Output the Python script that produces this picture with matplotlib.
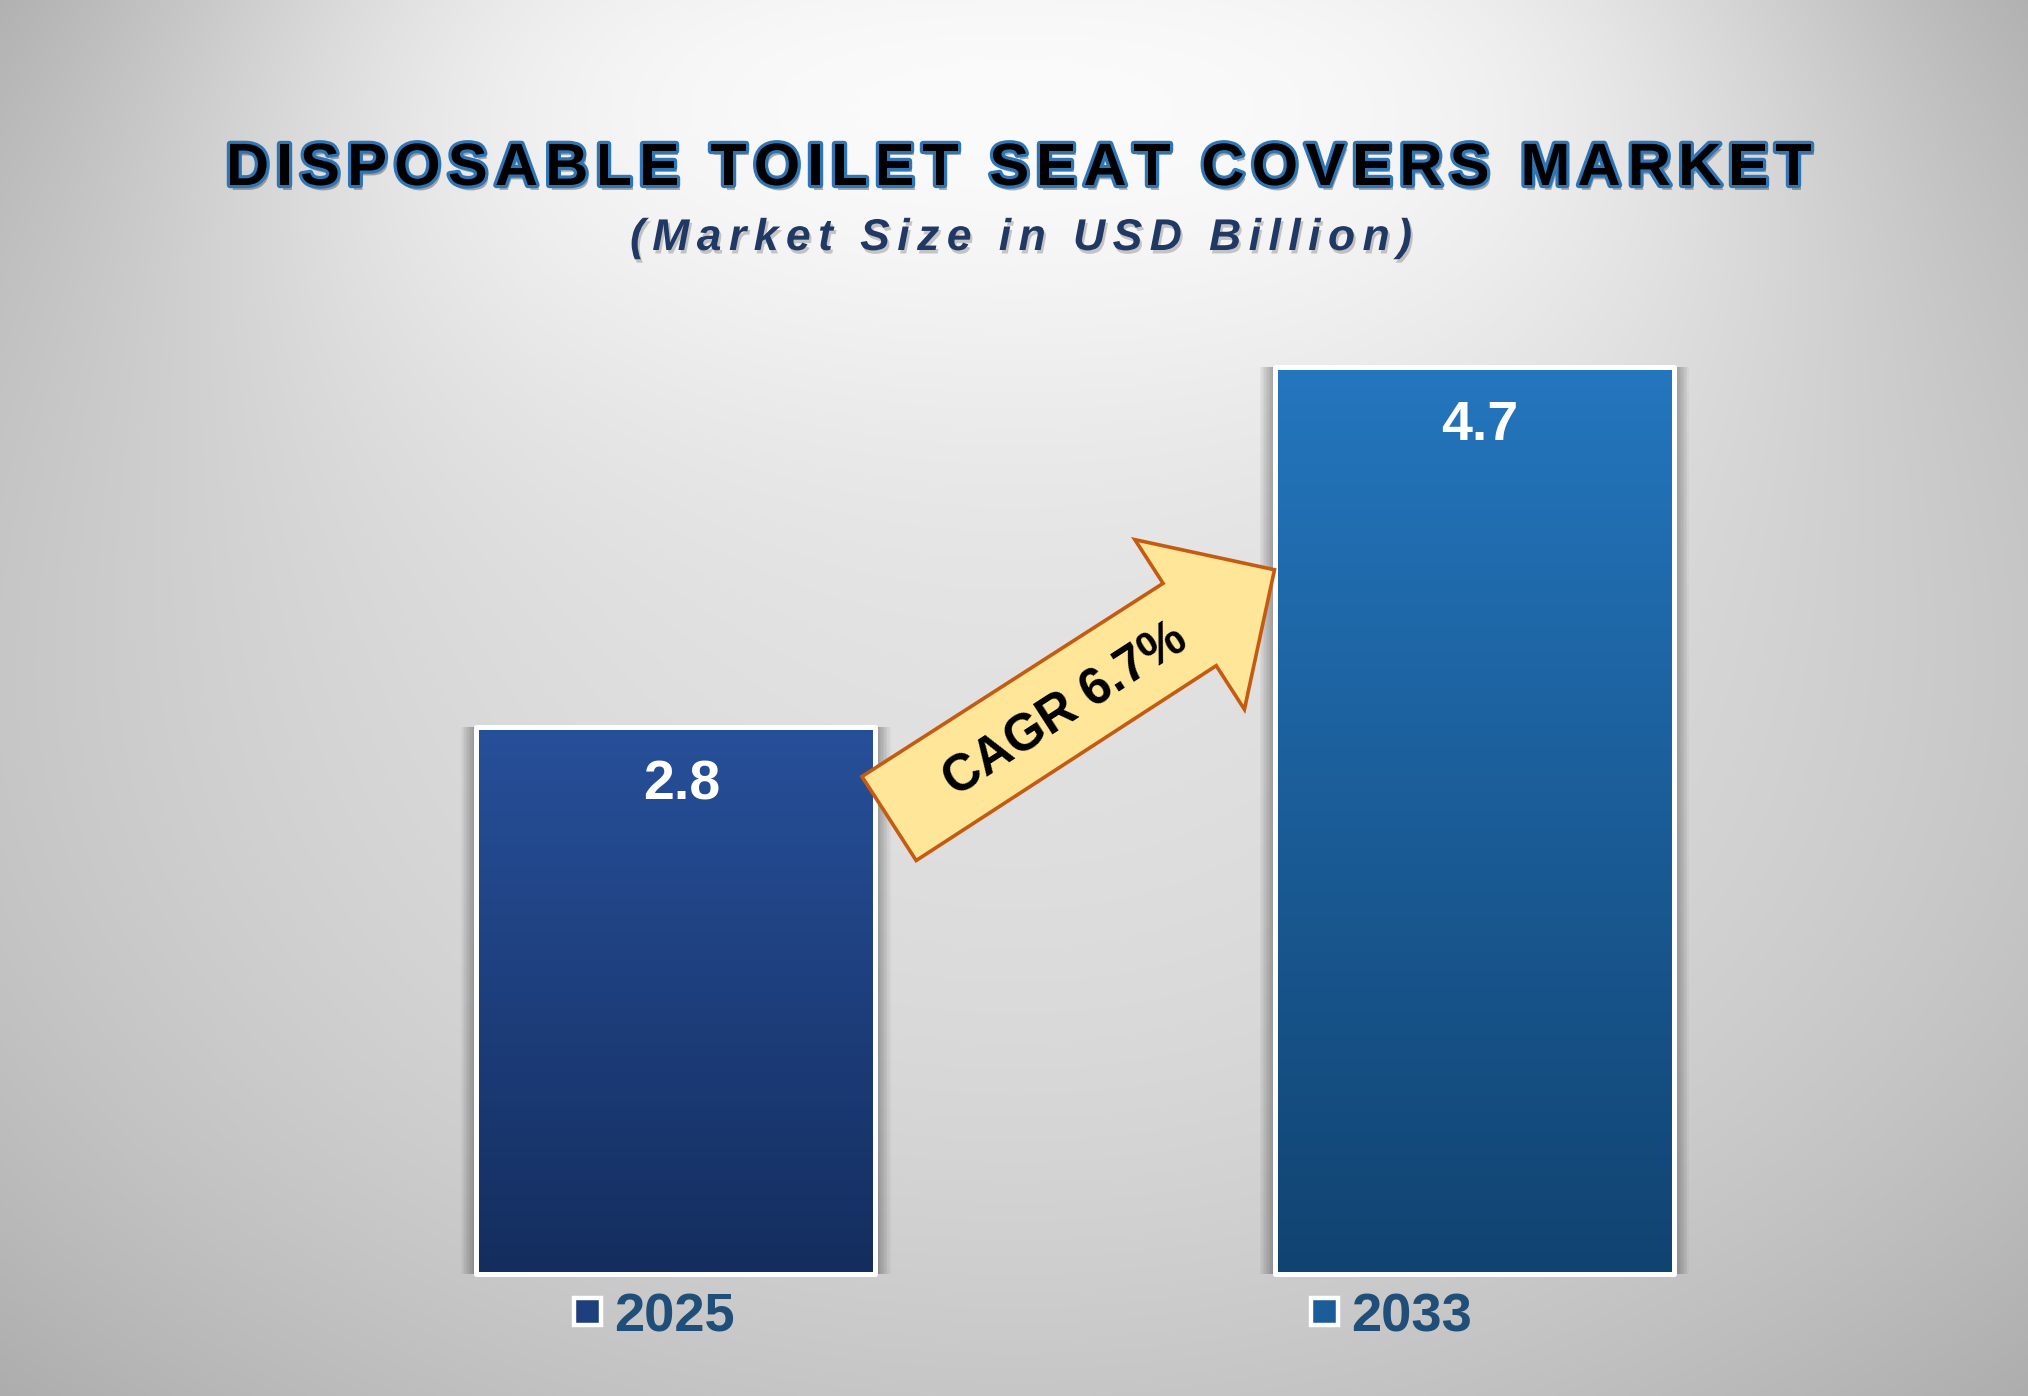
import numpy as np
import matplotlib
matplotlib.use("Agg")
import matplotlib.pyplot as plt
from matplotlib import patheffects as pe
from matplotlib.patches import Polygon, Patch
from matplotlib.font_manager import FontProperties, findfont, get_font
from matplotlib.transforms import IdentityTransform
from matplotlib.colors import to_rgb

# ---------------- data ----------------
years = ["2025", "2033"]
values = [2.8, 4.7]
value_labels = ["2.8", "4.7"]
cagr_label = "CAGR 6.7%"
title = "DISPOSABLE TOILET SEAT COVERS MARKET"
subtitle = "(Market Size in USD Billion)"
top_colors = ["#27509A", "#2476BE"]
bottom_colors = ["#142D5E", "#114371"]
legend_colors = ["#1F3F7C", "#1B5D98"]

W, H, DPI = 2028, 1396, 100
FONT = "Liberation Sans"

fig = plt.figure(figsize=(W / DPI, H / DPI), dpi=DPI)

# ---------------- background (vignette + light spot at top centre) ----------------
bg = fig.add_axes([0, 0, 1, 1], zorder=-10)
bg.axis("off")
yy, xx = np.mgrid[0:H:2, 0:W:2].astype(float)
dxn = (xx - W / 2) / (W / 2)
dyn = (yy - H / 2) / (H / 2)
g = 223 - 25 * (dxn ** 2 + dyn ** 2) + 49 * np.exp(-((xx - W / 2) / 816) ** 4 - (yy / 400) ** 2)
g = np.clip(g, 120, 250) / 255.0
bg.imshow(np.dstack([g, g, g]), extent=[0, 1, 0, 1], aspect="auto",
          origin="upper", interpolation="bilinear")
bg.set_xlim(0, 1)
bg.set_ylim(0, 1)

# ---------------- main axes ----------------
px_unit_x = 798.0
px_unit_y = 189.5
x0_px = 676.0
xlim = (-0.8, 1.67)
ylim = (-0.088, 5.5)          # value axis starts slightly below zero
left_px = x0_px + xlim[0] * px_unit_x
ax = fig.add_axes([left_px / W, (H - 1274) / H,
                   (xlim[1] - xlim[0]) * px_unit_x / W,
                   (ylim[1] - ylim[0]) * px_unit_y / H])
ax.patch.set_alpha(0)
ax.axis("off")

xs = np.arange(len(values))
vals = np.array(values)
base = ylim[0]
bar_w = 0.5

# soft side shadow around bars
for k in range(1, 11):
    ax.bar(xs, vals - base, bar_w + 2 * 1.5 * k / px_unit_x, bottom=base,
           color="black", alpha=0.035, linewidth=0, zorder=1)

# gradient bodies
clip_bars = ax.bar(xs, vals - base, bar_w, bottom=base, facecolor="none",
                   edgecolor="none", zorder=0)
for i, (x, v) in enumerate(zip(xs, values)):
    t = np.linspace(0, 1, 256)[:, None, None]
    c0 = np.array(to_rgb(top_colors[i]))[None, None, :]
    c1 = np.array(to_rgb(bottom_colors[i]))[None, None, :]
    img = c0 * (1 - t) + c1 * t
    im = ax.imshow(img, extent=[x - bar_w / 2, x + bar_w / 2, base, v],
                   aspect="auto", origin="upper", zorder=2, interpolation="bilinear")
    im.set_clip_path(clip_bars[i])

# white borders
edges = ax.bar(xs, vals - base, bar_w, bottom=base, facecolor="none",
               edgecolor="white", linewidth=3.6, zorder=3, clip_on=False)
for p in edges:
    p.set_joinstyle("round")

ax.set_xlim(*xlim)
ax.set_ylim(*ylim)

# value labels
for x, v, lab in zip(xs, values, value_labels):
    ax.annotate(lab, xy=(x, v), xytext=(4.5, -52.5), textcoords="offset points",
                ha="center", va="baseline", color="white", fontsize=40,
                fontweight="bold", family=FONT, zorder=5)

# ---------------- CAGR arrow ----------------
tail = ax.transData.transform((xs[0] + bar_w / 2 + 0.017, values[0] * 0.827))
tip = ax.transData.transform((xs[1] - bar_w / 2, values[1] * 0.772))
vec = tip - tail
L = np.hypot(*vec)
u = vec / L
n = np.array([-u[1], u[0]])
neck = tip - u * 101
verts = [tail + n * 50, neck + n * 49, neck + n * 101, tip,
         neck - n * 101, neck - n * 49, tail - n * 50]
arrow = Polygon(verts, closed=True, transform=IdentityTransform(),
                facecolor="#FFE699", edgecolor="#C55A11", linewidth=2.6,
                joinstyle="miter", zorder=6)
fig.add_artist(arrow)
angle = np.degrees(np.arctan2(u[1], u[0]))
fs_cagr = 36.5
cap = 0.716 * fs_cagr * DPI / 72
anchor = tail + u * 0.451 * L - n * cap / 2
fig.text(anchor[0] / W, anchor[1] / H, cagr_label, rotation=angle,
         rotation_mode="anchor", ha="center", va="baseline",
         fontsize=fs_cagr, fontweight="bold", family=FONT, color="black", zorder=7)


# ---------------- letter-spaced title / subtitle ----------------
def advances(s, prop):
    font = get_font(findfont(prop))
    font.set_size(prop.get_size_in_points(), 72)
    out = []
    for ch in s:
        gl = font.load_char(ord(ch))
        out.append(gl.linearHoriAdvance / 65536 * DPI / 72)
    return out


def spaced_text(s, left, right, baseline, prop, **kw):
    adv = advances(s, prop)
    spacing = ((right - left) - sum(adv)) / (len(s) - 1)
    x = left
    for ch, a in zip(s, adv):
        fig.text(x / W, (H - baseline) / H, ch, fontproperties=prop,
                 ha="left", va="baseline", **kw)
        x += a + spacing


title_prop = FontProperties(family=FONT, weight="bold", size=43)
spaced_text(title, 226, 1812, 185, title_prop, color="black",
            path_effects=[pe.SimplePatchShadow(offset=(2, -3.5), shadow_rgbFace="black", alpha=0.3),
                          pe.withStroke(linewidth=4.6, foreground="#2E75B6")])

sub_prop = FontProperties(family=FONT, weight="bold", style="italic", size=32)
spaced_text(subtitle, 630, 1412, 250, sub_prop, color="#1F3864",
            path_effects=[pe.SimplePatchShadow(offset=(1.5, -2.5), shadow_rgbFace="black", alpha=0.2),
                          pe.Normal()])

# ---------------- legend ----------------
handles = [Patch(facecolor=c, edgecolor="white", linewidth=3.2) for c in legend_colors]
leg = fig.legend(handles, years, loc="center", bbox_to_anchor=(1023 / W, (H - 1317) / H),
                 ncol=2, frameon=False,
                 prop=FontProperties(family=FONT, weight="bold", size=39.2),
                 handlelength=0.5, handleheight=0.39, handletextpad=0.25,
                 columnspacing=10.57, labelcolor="#1F4E79", borderpad=0,
                 borderaxespad=0)

fig.savefig("out.png", dpi=DPI)
